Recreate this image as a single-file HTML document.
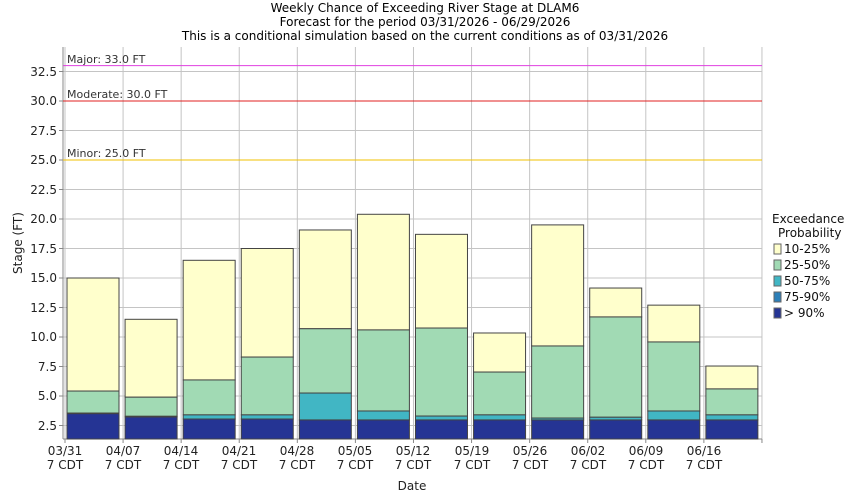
<!DOCTYPE html>
<html><head><meta charset="utf-8"><style>
body{margin:0;background:#fff;}
svg{display:block;font-family:"DejaVu Sans","Liberation Sans",sans-serif;}
</style></head><body>
<svg id="s" width="850" height="500" xmlns="http://www.w3.org/2000/svg">
<rect width="850" height="500" fill="#fff"/>
<g font-size="12" fill="#000" text-anchor="middle">
<text x="425" y="12">Weekly Chance of Exceeding River Stage at DLAM6</text>
<text x="425" y="26">Forecast for the period 03/31/2026 - 06/29/2026</text>
<text x="425" y="40">This is a conditional simulation based on the current conditions as of 03/31/2026</text>
</g>
<g id="grid"></g>
<g id="bars"></g>
<g id="thr"></g>
<g font-size="11" fill="#333">
<text x="67" y="63">Major: 33.0 FT</text>
<text x="67" y="98">Moderate: 30.0 FT</text>
<text x="67" y="157">Minor: 25.0 FT</text>
</g>
<g font-size="12" fill="#222" text-anchor="end">
<text x="57" y="76">32.5</text><text x="57" y="105">30.0</text><text x="57" y="135">27.5</text>
<text x="57" y="164">25.0</text><text x="57" y="194">22.5</text><text x="57" y="223">20.0</text>
<text x="57" y="253">17.5</text><text x="57" y="282">15.0</text><text x="57" y="312">12.5</text>
<text x="57" y="341">10.0</text><text x="57" y="371">7.5</text><text x="57" y="400">5.0</text>
<text x="57" y="430">2.5</text>
</g>
<g font-size="12" fill="#222" text-anchor="middle">
<text x="65" y="455">03/31</text><text x="65" y="469">7 CDT</text>
<text x="123" y="455">04/07</text><text x="123" y="469">7 CDT</text>
<text x="181" y="455">04/14</text><text x="181" y="469">7 CDT</text>
<text x="239" y="455">04/21</text><text x="239" y="469">7 CDT</text>
<text x="297" y="455">04/28</text><text x="297" y="469">7 CDT</text>
<text x="355" y="455">05/05</text><text x="355" y="469">7 CDT</text>
<text x="413" y="455">05/12</text><text x="413" y="469">7 CDT</text>
<text x="472" y="455">05/19</text><text x="472" y="469">7 CDT</text>
<text x="530" y="455">05/26</text><text x="530" y="469">7 CDT</text>
<text x="588" y="455">06/02</text><text x="588" y="469">7 CDT</text>
<text x="646" y="455">06/09</text><text x="646" y="469">7 CDT</text>
<text x="704" y="455">06/16</text><text x="704" y="469">7 CDT</text>
<text x="412" y="490">Date</text>
<text transform="translate(22,243) rotate(-90)">Stage (FT)</text>
</g>
<g font-size="12" fill="#111">
<text x="772" y="223">Exceedance</text>
<text x="778" y="237">Probability</text>
<rect x="774" y="244" width="7" height="10" fill="#ffffcc" stroke="#666"/><text x="784" y="253">10-25%</text>
<rect x="774" y="260" width="7" height="10" fill="#a1dab4" stroke="#666"/><text x="784" y="269">25-50%</text>
<rect x="774" y="276" width="7" height="10" fill="#41b6c4" stroke="#666"/><text x="784" y="285">50-75%</text>
<rect x="774" y="292" width="7" height="10" fill="#2c7fb8" stroke="#666"/><text x="784" y="301">75-90%</text>
<rect x="774" y="308" width="7" height="10" fill="#253494" stroke="#666"/><text x="784" y="317">&gt; 90%</text>
</g>
</svg>
<script>
const NS="http://www.w3.org/2000/svg";
function el(p,t,a){const e=document.createElementNS(NS,t);for(const k in a)e.setAttribute(k,a[k]);p.appendChild(e);return e;}
const L=63,R=762,T=47,B=439;
const Y=v=>160-(v-25)*11.8;
const g=document.getElementById('grid');
for(let v=2.5;v<=33;v+=2.5){el(g,'line',{x1:L,x2:R,y1:Y(v),y2:Y(v),stroke:'#c4c4c4'});el(g,'line',{x1:L-4,x2:L,y1:Y(v),y2:Y(v),stroke:'#888'});}
const tx=i=>65+i*58.08;
for(let i=0;i<=12;i++){el(g,'line',{x1:tx(i),x2:tx(i),y1:T,y2:B,stroke:'#c4c4c4'});el(g,'line',{x1:tx(i),x2:tx(i),y1:B,y2:B+4,stroke:'#888'});}
el(g,'line',{x1:L,x2:L,y1:T,y2:B,stroke:'#888'});
el(g,'line',{x1:L,x2:R,y1:B,y2:B,stroke:'#888'});
const th=document.getElementById('thr');
el(th,'line',{x1:L,x2:R,y1:Y(33),y2:Y(33),stroke:'#e040e0'});
el(th,'line',{x1:L,x2:R,y1:Y(30),y2:Y(30),stroke:'#e02020'});
el(th,'line',{x1:L,x2:R,y1:Y(25),y2:Y(25),stroke:'#f0c000'});
const d=[[15.0,5.42,3.55,3.5],[11.5,4.9,3.28,3.22],[16.5,6.36,3.4,3.05],[17.5,8.3,3.4,3.05],[19.07,10.7,5.25,2.97],[20.4,10.6,3.73,2.97],[18.7,10.76,3.3,2.97],[10.34,7.03,3.4,2.97],[19.5,9.24,3.13,2.97],[14.15,11.7,3.2,2.97],[12.7,9.58,3.73,2.97],[7.54,5.6,3.4,2.97]];
const cols=['#ffffcc','#a1dab4','#41b6c4','#253494'];
const b=document.getElementById('bars');
d.forEach((r,i)=>{const x=tx(i)+2;
 for(let k=0;k<4;k++){const top=Y(r[k]);const bot=k<3?Y(r[k+1]):B;
  el(b,'rect',{x:x,y:top,width:52,height:Math.max(bot-top,0.5),fill:cols[k],stroke:'#444','stroke-width':1});}
});
</script>
</body></html>
